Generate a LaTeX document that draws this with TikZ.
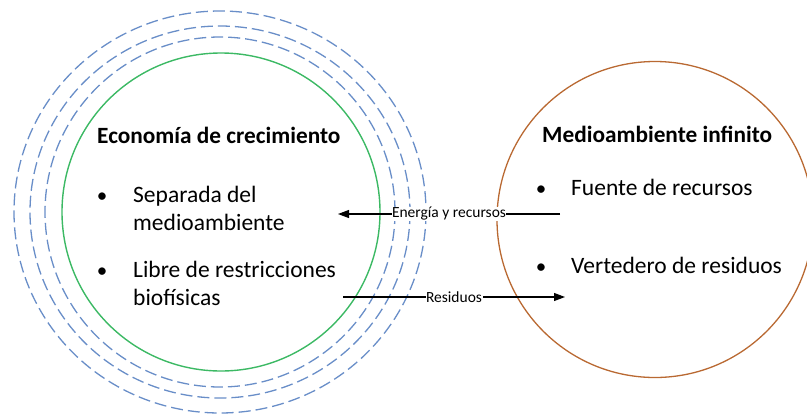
\documentclass[tikz,border=0pt]{standalone}
\usepackage{fontspec}
\setmainfont{Carlito}
\usetikzlibrary{arrows.meta}
\definecolor{ecogreen}{RGB}{60,185,100}
\definecolor{dashblue}{RGB}{105,142,200}
\definecolor{envbrown}{RGB}{185,105,50}
\tikzset{
  title/.style={font=\fontsize{23.3}{28}\selectfont\bfseries, anchor=base west, inner sep=0pt},
  item/.style={font=\fontsize{23.5}{28}\selectfont, anchor=base west, inner sep=0pt, align=left},
  bul/.style={font=\fontsize{21}{28}\selectfont, anchor=base, inner sep=0pt},
  flow/.style={line width=1.1pt, -{Triangle[length=11pt,width=8pt]}},
  lbl/.style={font=\fontsize{15.5}{18}\selectfont, fill=white, inner sep=0.5pt},
  ring/.style={dashblue, line width=1.3pt, dash pattern=on 12pt off 5pt},
}
\begin{document}
\begin{tikzpicture}[x=1pt,y=-1pt]
\useasboundingbox (0,0) rectangle (807,416);
\begin{scope}
\clip (0,0) rectangle (807,416);
% economy rings
\draw[ring] (220,212) ellipse [x radius=206, y radius=201];
\draw[ring] (220,212) ellipse [x radius=190, y radius=186];
\draw[ring] (220,212) ellipse [x radius=175, y radius=175];
\draw[ecogreen, line width=1.4pt] (221,212) circle [radius=159];
% environment
\draw[envbrown, line width=1.3pt] (655,219.5) circle [radius=158];
\end{scope}
% texts left
\node[title] (ectitle) at (97,143) {Economía de crecimiento};
\node[bul] (b1) at (102,202) {•};
\node[item] (i1) at (133,202) {Separada del};
\node[item] (i1b) at (133,230) {medioambiente};
\node[bul] (b2) at (102,277) {•};
\node[item] (i2) at (133,277) {Libre de restricciones};
\node[item] (i2b) at (133,305) {biofísicas};
% texts right
\node[title] (entitle) at (542,142) {Medioambiente infinito};
\node[bul] (b3) at (541,195) {•};
\node[item] (i3) at (571,195) {Fuente de recursos};
\node[bul] (b4) at (541,273) {•};
\node[item] (i4) at (571,273) {Vertedero de residuos};
% flows
\coordinate (es) at (560,214);
\coordinate (ee) at (338,214);
\coordinate (rs) at (343,297);
\coordinate (re) at (565,297);
\draw[flow] (es) -- node[lbl] (elbl) {Energía y recursos} (ee);
\draw[flow] (rs) -- node[lbl] (rlbl) {Residuos} (re);
\end{tikzpicture}
\end{document}
